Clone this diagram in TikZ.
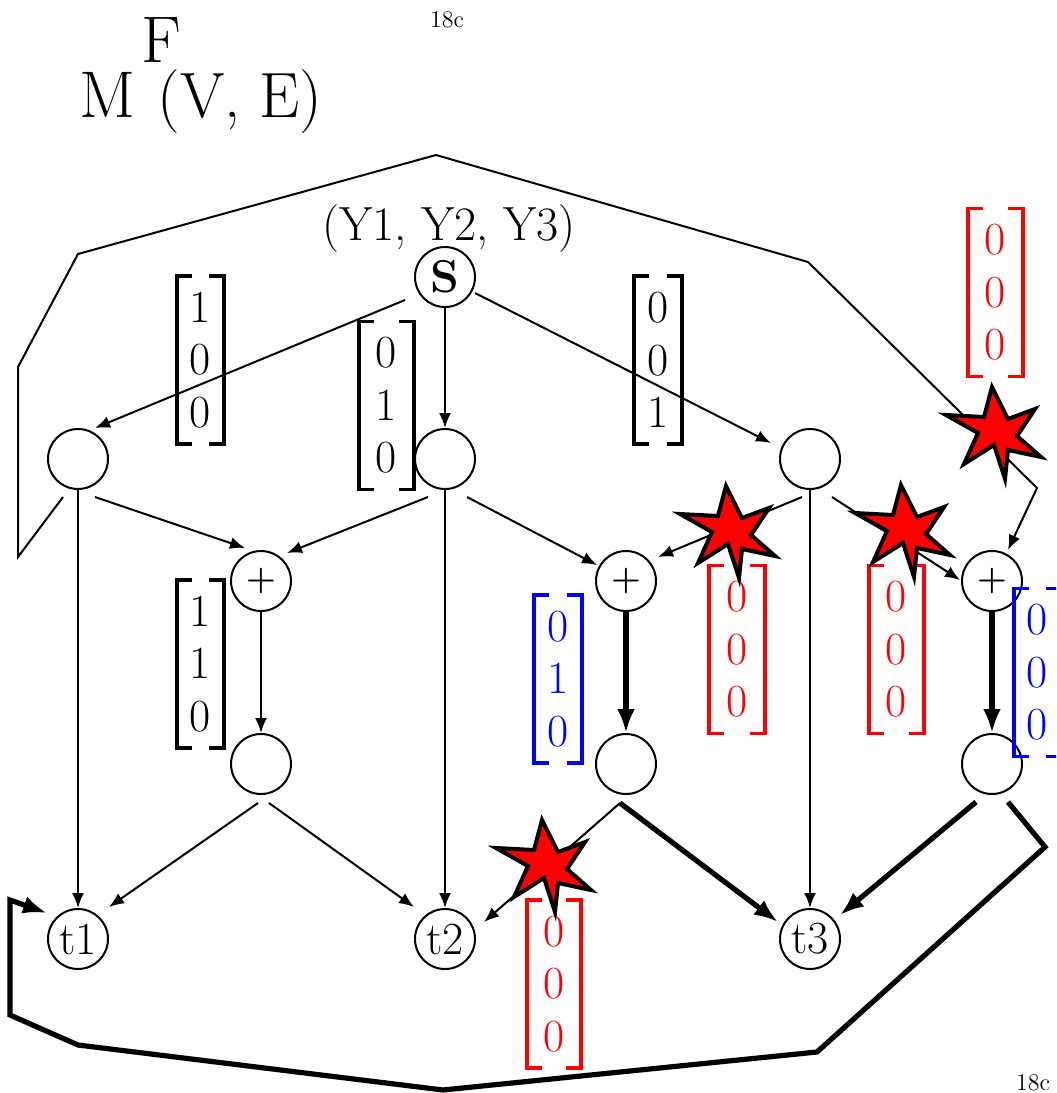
\documentclass[tikz,border=0pt]{standalone}
\usetikzlibrary{arrows.meta,calc}
\newcommand\vecm[8]{%
  \node[vtext,text=#5] (#1) at (#2,#3) {#6\\#7\\#8};
  \draw[bracketline,#5] ($(#1)+({-#4/2+15},-84)$) -- ++(-15,0) -- ++(0,168) -- ++(15,0);
  \draw[bracketline,#5] ($(#1)+({#4/2-15},-84)$) -- ++(15,0) -- ++(0,168) -- ++(-15,0);
}
\begin{document}
\begin{tikzpicture}[x=0.5pt,y=-0.5pt,
  vnode/.style={circle,draw,line width=1pt,minimum size=30pt,inner sep=0pt,font=\fontsize{23}{23}\selectfont},
  plusnode/.style={vnode,font=\fontsize{17}{17}\selectfont\bfseries},
  vtext/.style={inner sep=0pt,align=center,font=\fontsize{23}{26.25}\selectfont},
  bracketline/.style={line width=1.8pt},
  thinarr/.style={line width=1pt,-{Latex[length=7.5pt,width=6pt]}},
  thickarr/.style={line width=2.6pt,-{Latex[length=12pt,width=9pt]}},
  boom/.pic={\draw[line width=2pt,fill=red,line join=miter]
     (-2,-49) -- (14,-17) -- (41,-27) -- (23,0) -- (47,21) -- (14,14) -- (11,43)
     -- (0,9) -- (-30,28) -- (-16,-3) -- (-48,-21) -- (-10,-19) -- cycle;},
  lbl/.style={inner sep=0pt}
]
\clip (0,0) rectangle (1056,1093);
\fill[white] (0,0) rectangle (1056,1093);

% texts
\node[lbl,anchor=base,font=\fontsize{12}{12}\selectfont] (pgtop) at (447,27) {18c};
\node[lbl,anchor=base,font=\fontsize{12}{12}\selectfont] (pgbot) at (1033,1090) {18c};
\node[lbl,anchor=base west,font=\fontsize{33}{33}\selectfont] (tM) at (79,117) {M};
\node[lbl,anchor=base west,font=\fontsize{33}{33}\selectfont] (tF) at (141,62) {F};
\node[lbl,anchor=base west,font=\fontsize{32}{32}\selectfont] (tVE) at (157,117) {(V, E)};
\node[lbl,anchor=base,font=\fontsize{24}{24}\selectfont] (ys) at (449,240) {(Y1, Y2, Y3)};

% nodes
\node[vnode] (S) at (445,277) {\bfseries S};
\node[vnode] (A1) at (78,459) {};
\node[vnode] (A2) at (445,459) {};
\node[vnode] (A3) at (810,459) {};
\node[plusnode] (P1) at (261,581) {+};
\node[plusnode] (P2) at (626,581) {+};
\node[plusnode] (P3) at (992,581) {+};
\node[vnode] (C1) at (261,764) {};
\node[vnode] (C2) at (626,764) {};
\node[vnode] (C3) at (992,764) {};
\node[vnode] (t1) at (78,939) {t1};
\node[vnode] (t2) at (445,939) {t2};
\node[vnode] (t3) at (810,939) {t3};

% bend points
\coordinate (la) at (18,557);
\coordinate (lb) at (18,367);
\coordinate (lc) at (78,254);
\coordinate (ld) at (436,155);
\coordinate (le) at (808,262);
\coordinate (lf) at (1037,488);
\coordinate (ra) at (1045,847);
\coordinate (rb) at (817,1052);
\coordinate (rc) at (443,1090);
\coordinate (rd) at (78,1045);
\coordinate (re) at (10,1015);
\coordinate (rf) at (10,900);

% edges
\draw[thinarr] ($(S)+(-40,23)$) -- ($(A1)+(17,-31)$);
\draw[thinarr] (S) -- (A2);
\draw[thinarr] ($(S)+(30,16)$) -- ($(A3)+(-39,-16)$);
\draw[thinarr] (A1) -- (t1);
\draw[thinarr] ($(A1)+(17,38)$) -- ($(P1)+(-16,-33)$);
\draw[thinarr] ($(A1)+(-15,38)$) -- (la) -- (lb) -- (lc) -- (ld) -- (le) -- (lf) -- ($(P3)+(16,-31)$);
\draw[thinarr] ($(A2)+(-17,38)$) -- ($(P1)+(26,-28)$);
\draw[thinarr] (A2) -- (t2);
\draw[thinarr] ($(A2)+(22,38)$) -- ($(P2)+(-29,-16)$);
\draw[thinarr] ($(A3)+(-8,38)$) -- ($(P2)+(32,-24)$);
\draw[thinarr] (A3) -- (t3);
\draw[thinarr] ($(A3)+(22,38)$) -- ($(P3)+(-32,-1)$);
\draw[thinarr] (P1) -- (C1);
\draw[thickarr] (P2) -- (C2);
\draw[thickarr] (P3) -- (C3);
\draw[thinarr] ($(C1)+(-3,39)$) -- ($(t1)+(31,-32)$);
\draw[thinarr] ($(C1)+(8,39)$) -- ($(t2)+(-31,-32)$);
\draw[thinarr] ($(C2)+(-6,39)$) -- ($(t2)+(39,-17)$);
\draw[thickarr] ($(C2)+(-6,39)$) -- ($(t3)+(-32,-17)$);
\draw[thickarr] ($(C3)+(-16,38)$) -- ($(t3)+(30,-24)$);
\draw[thickarr] ($(C3)+(16,38)$) -- (ra) -- (rb) -- (rc) -- (rd) -- (re) -- (rf) -- ($(t1)+(-31,-26)$);

% vectors
\vecm{m100}{200.5}{360}{47}{black}{1}{0}{0}
\vecm{m010}{386.5}{405.5}{55}{black}{0}{1}{0}
\vecm{m001}{658}{360}{48}{black}{0}{0}{1}
\vecm{m110}{200.5}{664}{47}{black}{1}{1}{0}
\vecm{rtop}{995.5}{292.5}{55}{red}{0}{0}{0}
\vecm{rmid}{737}{649.5}{56}{red}{0}{0}{0}
\vecm{rright}{896.5}{649.5}{55}{red}{0}{0}{0}
\vecm{rbot}{554}{984}{54}{red}{0}{0}{0}
\vecm{bmid}{558}{679}{48}{blue}{0}{1}{0}
\vecm{bright}{1037.5}{672.5}{47}{blue}{0}{0}{0}

% stars
\pic at (994,436) {boom};
\pic at (728,535) {boom};
\pic at (903,534) {boom};
\pic at (544,869) {boom};
\end{tikzpicture}
\end{document}
